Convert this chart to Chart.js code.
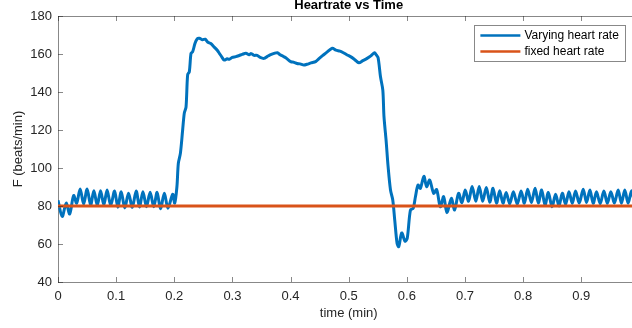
<!DOCTYPE html>
<html>
<head>
<meta charset="utf-8">
<script src="https://cdn.jsdelivr.net/npm/chart.js@4/dist/chart.umd.min.js"></script>
<style>
  html, body { margin: 0; padding: 0; background: #fff; overflow: hidden; }
  #wrap { position: relative; width: 632px; height: 328px; overflow: hidden; }
  #chart { position: absolute; left: 0; top: -8px; }
</style>
</head>
<body>
<div id="wrap"><canvas id="chart" width="650" height="336"></canvas></div>
<script>
// time (min) and heart rate (beats/min)
const times = [
  0.000, 0.0072, 0.0141, 0.0201, 0.0269, 0.0321, 0.0381, 0.0441, 0.0501, 0.0561,
  0.0617, 0.0676, 0.0732, 0.0789, 0.0844, 0.0907, 0.0973, 0.1029, 0.1087, 0.1148,
  0.1213, 0.1278, 0.1345, 0.1401, 0.1461, 0.1521, 0.1585, 0.1647, 0.1705, 0.1762,
  0.1830, 0.1890, 0.1973, 0.2007, 0.2045, 0.2070, 0.2105, 0.2144, 0.2173, 0.2202,
  0.2230, 0.2259, 0.2288, 0.2316, 0.2357, 0.2396, 0.2431, 0.2487, 0.2533, 0.2573,
  0.2628, 0.2688, 0.2739, 0.2774, 0.2816, 0.2859, 0.2911, 0.2945, 0.2997, 0.3060,
  0.3117, 0.3168, 0.3232, 0.3288, 0.3322, 0.3374, 0.3425, 0.3477, 0.3545, 0.3597,
  0.3648, 0.3717, 0.3774, 0.3820, 0.3871, 0.3923, 0.4003, 0.4060, 0.4111, 0.4163,
  0.4231, 0.4283, 0.4352, 0.4432, 0.4489, 0.4557, 0.4626, 0.4717, 0.4780, 0.4849,
  0.4900, 0.4974, 0.5038, 0.5106, 0.5175, 0.5244, 0.5317, 0.5381, 0.5444, 0.5475,
  0.5506, 0.5547, 0.5587, 0.5607, 0.5643, 0.5678, 0.5719, 0.5758, 0.5792, 0.5832,
  0.5861, 0.5912, 0.5969, 0.6007, 0.6062, 0.6110, 0.6148, 0.6192, 0.6233, 0.6293,
  0.6341, 0.6393, 0.6461, 0.6513, 0.6576, 0.6633, 0.6690, 0.6765, 0.6822, 0.6890,
  0.6947, 0.7005, 0.7062, 0.7123, 0.7187, 0.7245, 0.7305, 0.7367, 0.7427, 0.7482,
  0.7542, 0.7597, 0.7654, 0.7708, 0.7770, 0.7833, 0.7899, 0.7966, 0.8022, 0.8079,
  0.8142, 0.8206, 0.8262, 0.8319, 0.8377, 0.8434, 0.8497, 0.8559, 0.8617, 0.8674,
  0.8731, 0.8789, 0.8846, 0.8902, 0.8966, 0.9034, 0.9091, 0.9149, 0.9206, 0.9262,
  0.9326, 0.9389, 0.9449, 0.9509, 0.9571, 0.9635, 0.9691, 0.9749, 0.9806, 0.9866,
  0.9926, 0.9995
];
const varyingRate = [
  83, 74.5, 81.5, 75.8, 85.5, 81.5, 89, 81, 89, 80.5,
  88, 80.3, 88, 80.5, 88.4, 80.3, 87.9, 79.4, 87.5, 79,
  86.7, 79.3, 87.9, 79.5, 87.5, 79.6, 87.2, 79.6, 87.2, 78.6,
  86.7, 78.8, 86.2, 81.5, 90, 102.5, 107.7, 120, 129, 132,
  149, 150.7, 160.4, 161.2, 165.6, 168, 168.3, 167.5, 167.8, 166.3,
  165.5, 163.6, 162, 160.4, 158.5, 156.8, 157.5, 157.2, 158.2, 158.6,
  159.2, 159.8, 160.4, 159.6, 160.2, 159.3, 159.3, 158.2, 157.7, 158.6,
  159.5, 160.3, 160.7, 159.6, 158.8, 157.9, 156, 155.6, 155, 154.8,
  154.2, 154.6, 155.3, 156, 157.6, 159.3, 161, 163, 162, 161.5,
  160.8, 159.5, 158.5, 157, 155.4, 156.5, 157.7, 159, 160.7, 159.5,
  158, 148, 141, 127, 114.7, 100.7, 88.4, 83.2, 72.6, 60.4,
  58.6, 65.8, 61.5, 63, 77.9, 78.8, 84.9, 91, 89.3, 95.6,
  90.2, 93.7, 86.7, 88.6, 79.6, 84.9, 76.5, 84, 77.9, 86.7,
  81.8, 88.4, 82.5, 90.2, 82.5, 90.3, 82.5, 89.8, 82, 89.3,
  81.5, 88, 81.5, 87.1, 81.2, 87.5, 81, 87.9, 81.4, 88.8,
  81.8, 89.3, 81.6, 88.4, 80.5, 87.1, 79.6, 86.2, 80, 86.7,
  81, 87.5, 81.4, 87.9, 81.6, 88.8, 81.8, 88.4, 81.4, 87.5,
  81.2, 87.9, 81.4, 87.5, 81.6, 88.4, 81.4, 88.4, 81.5, 88,
  81.5, 87
];
const fixedTimes = [0, 1];
const fixedRate  = [80, 80];

const seriesLabels = ['Varying heart rate', 'fixed heart rate'];
const seriesColors = ['#0072BD', '#D95319'];

const FONT = "'Liberation Sans', Arial, Helvetica, sans-serif";
const AXIS = 'rgba(38,38,38,0.55)';

// MATLAB-style box: top border and inward ticks
const boxTicks = {
  id: 'boxTicks',
  afterDatasetsDraw(chart) {
    const { ctx, chartArea: a, scales: { x, y } } = chart;
    ctx.save();
    ctx.strokeStyle = AXIS;
    ctx.lineWidth = 1;
    ctx.beginPath();
    ctx.moveTo(a.left, a.top + 0.5);
    ctx.lineTo(a.right, a.top + 0.5);
    x.ticks.forEach(t => {
      const px = Math.round(x.getPixelForValue(t.value)) + 0.5;
      ctx.moveTo(px, a.bottom); ctx.lineTo(px, a.bottom - 5);
      ctx.moveTo(px, a.top);    ctx.lineTo(px, a.top + 5);
    });
    y.ticks.forEach(t => {
      const py = Math.round(y.getPixelForValue(t.value)) + 0.5;
      ctx.moveTo(a.left, py); ctx.lineTo(a.left + 5, py);
    });
    ctx.stroke();
    ctx.restore();
  }
};

// legend box inside the axes, top right
const insideLegend = {
  id: 'insideLegend',
  afterDraw(chart) {
    const { ctx, chartArea: a } = chart;
    const w = 151, h = 36;
    const left = a.right - 14 - w, top = a.top + 9;
    ctx.save();
    ctx.fillStyle = '#fff';
    ctx.fillRect(left, top, w, h);
    ctx.strokeStyle = 'rgba(38,38,38,0.55)';
    ctx.lineWidth = 1;
    ctx.strokeRect(Math.round(left) + 0.5, Math.round(top) + 0.5, w, h);
    ctx.font = '12px ' + FONT;
    ctx.textBaseline = 'middle';
    ctx.fillStyle = '#000';
    chart.data.datasets.forEach((ds, i) => {
      const cy = top + 10.5 + i * 16;
      ctx.strokeStyle = ds.borderColor;
      ctx.lineWidth = 2.5;
      ctx.beginPath();
      ctx.moveTo(left + 6, cy);
      ctx.lineTo(left + 46, cy);
      ctx.stroke();
      ctx.fillText(ds.label, left + 50, cy);
    });
    ctx.restore();
  }
};

new Chart(document.getElementById('chart'), {
  type: 'line',
  data: {
    datasets: [
      {
        label: seriesLabels[0],
        data: times.map((t, i) => ({ x: t, y: varyingRate[i] })),
        borderColor: seriesColors[0],
        borderWidth: 3,
        pointRadius: 0,
        tension: 0.3,
        order: 2
      },
      {
        label: seriesLabels[1],
        data: fixedTimes.map((t, i) => ({ x: t, y: fixedRate[i] })),
        borderColor: seriesColors[1],
        borderWidth: 3,
        pointRadius: 0,
        order: 1
      }
    ]
  },
  options: {
    responsive: false,
    animation: false,
    layout: { padding: { left: 0, right: 9, top: 0, bottom: 0 } },
    plugins: {
      legend: { display: false },
      tooltip: { enabled: false },
      title: {
        display: true,
        text: 'Heartrate vs Time',
        fullSize: false,
        color: '#000',
        font: { family: FONT, size: 13, weight: 'bold' },
        padding: { top: 5.7, bottom: 2.7 }
      }
    },
    scales: {
      x: {
        type: 'linear',
        min: 0, max: 1,
        afterFit: s => { s.height = 46; },
        ticks: {
          stepSize: 0.1,
          padding: 7,
          color: '#262626',
          font: { family: FONT, size: 13 },
          maxRotation: 0,
          callback: v => String(+v.toFixed(1))
        },
        grid: { display: false, drawTicks: false },
        border: { color: AXIS, width: 1 },
        title: {
          display: true,
          text: 'time (min)',
          color: '#262626',
          font: { family: FONT, size: 13 },
          padding: { top: 0, bottom: 7.2 }
        }
      },
      y: {
        min: 40, max: 180,
        afterFit: s => { s.width = 58; },
        ticks: {
          stepSize: 20,
          padding: 6,
          color: '#262626',
          font: { family: FONT, size: 13 }
        },
        grid: { display: false, drawTicks: false },
        border: { color: AXIS, width: 1 },
        title: {
          display: true,
          text: 'F (beats/min)',
          color: '#262626',
          font: { family: FONT, size: 13 },
          padding: { top: 10.2, bottom: 0 }
        }
      }
    }
  },
  plugins: [boxTicks, insideLegend]
});
</script>
</body>
</html>
